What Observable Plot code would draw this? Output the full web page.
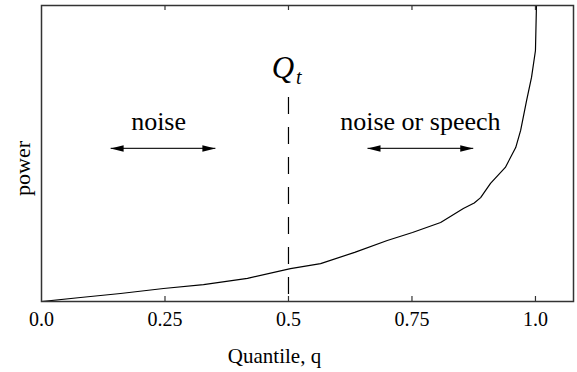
<!DOCTYPE html>
<html>
<head>
<meta charset="utf-8">
<script src="https://cdn.jsdelivr.net/npm/d3@7"></script>
<script src="https://cdn.jsdelivr.net/npm/@observablehq/plot@0.6"></script>
<style>
  html, body { margin: 0; padding: 0; background: #fff; }
  #chart svg, #chart svg text { font-family: 'Liberation Serif', 'Times New Roman', serif !important; }
</style>
</head>
<body>
<div id="chart"></div>
<script>
// ---- data ----
const quantile = [0, 0.079, 0.16, 0.247, 0.328, 0.417, 0.504, 0.565, 0.634, 0.700, 0.751, 0.808, 0.854, 0.876, 0.889, 0.909, 0.939, 0.960, 0.970, 0.982, 0.992, 1.0, 1.002];
const power    = [0, 0.0135, 0.027, 0.044, 0.057, 0.078, 0.111, 0.128, 0.166, 0.206, 0.233, 0.267, 0.314, 0.333, 0.351, 0.399, 0.453, 0.520, 0.578, 0.679, 0.757, 0.848, 1.0];

const qTicks = [0, 0.25, 0.5, 0.75, 1.0];
const qTickLabels = ["0.0", "0.25", "0.5", "0.75", "1.0"];
const innerTicks = [0.25, 0.5, 0.75, 1.0];

const threshold = 0.5;          // Q_t
const thresholdTop = 0.689;     // top of dashed line (power units)

const regionLabels = ["noise", "noise or speech"];
const regionLabelX = [0.237, 0.767];
const regionLabelY = [0.606, 0.606];
const arrowX1 = [0.140, 0.660];
const arrowX2 = [0.352, 0.874];
const arrowY  = [0.517, 0.517];

const xLabel = "Quantile, q";
const yLabel = "power";

// ---- build ----
const curve = quantile.map((q, i) => ({q, p: power[i]}));
const regions = regionLabels.map((t, i) => ({t, x: regionLabelX[i], y: regionLabelY[i]}));
const arrows = arrowX1.map((x1, i) => ({x1, x2: arrowX2[i], y: arrowY[i]}));
const heads = arrows.flatMap(a => [{x: a.x1, y: a.y, r: 180}, {x: a.x2, y: a.y, r: 0}]);
const labelMap = new Map(qTicks.map((v, i) => [v, qTickLabels[i]]));

const headSymbol = {
  draw(context) {
    context.moveTo(0, 0);
    context.lineTo(-13, -3.2);
    context.lineTo(-13, 3.2);
    context.closePath();
  }
};

const serif = "Liberation Serif";

const chart = Plot.plot({
  width: 577,
  height: 372,
  marginLeft: 41,
  marginRight: 4,
  marginTop: 5,
  marginBottom: 71,
  x: {domain: [0, 1.077], axis: null},
  y: {domain: [0, 1], axis: null},
  marks: [
    Plot.line(curve, {x: "q", y: "p", stroke: "#000", strokeWidth: 1.2, clip: true}),
    Plot.ruleX([threshold], {y1: thresholdTop, y2: 0, stroke: "#000", strokeWidth: 1.2, strokeDasharray: "17,13"}),
    Plot.ruleX(innerTicks, {insetTop: 291, stroke: "#333", strokeWidth: 1.2}),
    Plot.ruleX(innerTicks, {insetBottom: 291, stroke: "#333", strokeWidth: 1.2}),
    Plot.frame({stroke: "#333", strokeWidth: 1.5}),
    Plot.axisX({ticks: qTicks, tickFormat: d => labelMap.get(d), tickSize: 0, tickPadding: 10, fontSize: 20, fontFamily: serif, label: null, fill: "#000"}),
    Plot.link(arrows, {x1: "x1", x2: "x2", y1: "y", y2: "y", stroke: "#222", strokeWidth: 1.3}),
    Plot.dot(heads, {x: "x", y: "y", rotate: "r", symbol: headSymbol, fill: "#000", stroke: "none", r: 5}),
    Plot.text(regions, {x: "x", y: "y", text: "t", fontSize: 26, fontFamily: serif, lineAnchor: "middle", fill: "#000"}),
    Plot.text(["Q"], {x: 0.489, y: 0.787, fontSize: 31, fontStyle: "italic", fontFamily: serif, lineAnchor: "middle", fill: "#000"}),
    Plot.text(["t"], {x: 0.521, y: 0.758, fontSize: 20, fontStyle: "italic", fontFamily: serif, lineAnchor: "middle", fill: "#000"}),
    Plot.text([xLabel], {frameAnchor: "bottom", textAnchor: "middle", dx: -33, dy: 55, fontSize: 21, fontFamily: serif, lineAnchor: "middle", fill: "#000"}),
    Plot.text([yLabel], {frameAnchor: "left", textAnchor: "middle", rotate: -90, dx: -19, dy: 15, fontSize: 22, fontFamily: serif, lineAnchor: "middle", fill: "#000"})
  ]
});
document.getElementById("chart").appendChild(chart);
</script>
</body>
</html>
